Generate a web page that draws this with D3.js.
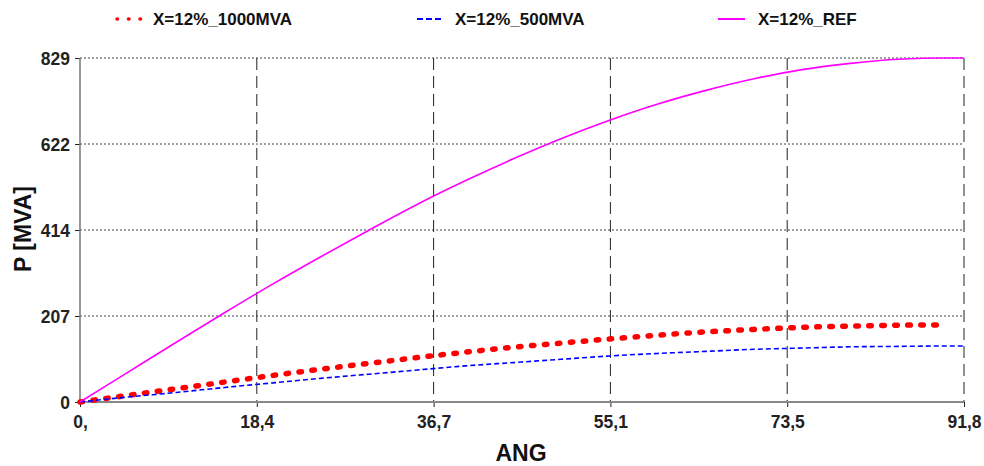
<!DOCTYPE html>
<html>
<head>
<meta charset="utf-8">
<script src="https://cdn.jsdelivr.net/npm/d3@7"></script>
<style>
  body { margin: 0; background: #fff; }
  svg { font-family: "Liberation Sans", Arial, sans-serif; font-weight: bold; }
</style>
</head>
<body>
<svg id="chart" width="984" height="466"></svg>
<script>
// values (angle in degrees, P in MVA)
const angles = [0, 5, 10, 15, 20, 25, 30, 35, 40, 45, 50, 55, 60, 65, 70, 75, 80, 85, 90, 91.8];
const pRef = [0, 72, 144, 215, 284, 350, 414, 476, 533, 586, 635, 679, 718, 751, 779, 801, 816, 826, 829, 829];
const p1000 = [0, 16, 32, 48, 64, 79, 93, 107, 120, 132, 142, 152, 161, 169, 175, 180, 183, 185, 186];
const p500 = [0, 12, 23, 35, 46, 57, 67, 77, 87, 95, 103, 111, 117, 122, 127, 130, 133, 134, 135, 135];
const xTicks = [0, 18.36, 36.72, 55.08, 73.44, 91.8];
const xTickLabels = ["0,", "18,4", "36,7", "55,1", "73,5", "91,8"];
const yTicks = [0, 207.25, 414.5, 621.75, 829];
const yTickLabels = ["0", "207", "414", "622", "829"];

const series = [
  { name: "X=12%_1000MVA", values: p1000, color: "#ff0000", width: 5.5, dash: "2.5 10.5", cap: "round" },
  { name: "X=12%_500MVA", values: p500, color: "#0000ff", width: 1.6, dash: "5 3", cap: "butt" },
  { name: "X=12%_REF", values: pRef, color: "#ff00ff", width: 1.6, dash: null, cap: "butt" }
];

const svg = d3.select("#chart");
const plotL = 80, plotR = 964, plotT = 58, plotB = 402;

const x = d3.scaleLinear().domain([0, 91.8]).range([plotL, plotR]);
const y = d3.scaleLinear().domain([0, 829]).range([plotB, plotT]);

// horizontal grid (dotted)
svg.append("g").selectAll("line")
  .data(yTicks.slice(1))
  .enter().append("line")
  .attr("x1", plotL).attr("x2", plotR)
  .attr("y1", d => y(d)).attr("y2", d => y(d))
  .attr("stroke", "#444").attr("stroke-width", 1)
  .attr("stroke-dasharray", "2 2");

// vertical grid (long dashes)
svg.append("g").selectAll("line")
  .data(xTicks.slice(1))
  .enter().append("line")
  .attr("x1", d => x(d)).attr("x2", d => x(d))
  .attr("y1", plotT).attr("y2", plotB)
  .attr("stroke", "#222").attr("stroke-width", 1)
  .attr("stroke-dasharray", "12 6");

// axes
const xAxis = d3.axisBottom(x).tickValues(xTicks).tickSize(5)
  .tickFormat((d, i) => xTickLabels[i]);
const yAxis = d3.axisLeft(y).tickValues(yTicks).tickSize(5)
  .tickFormat((d, i) => yTickLabels[i]);

const gx = svg.append("g").attr("transform", `translate(0,${plotB})`).call(xAxis);
gx.select(".domain").remove();
gx.selectAll(".tick line").attr("stroke", "#222");
gx.selectAll(".tick text").attr("font-size", 17.5).attr("font-weight", "bold")
  .attr("fill", "#222").attr("dy", "1.05em")
  .attr("font-family", "Liberation Sans, Arial, sans-serif");

const gy = svg.append("g").attr("transform", `translate(${plotL},0)`).call(yAxis);
gy.select(".domain").remove();
gy.selectAll(".tick line").attr("stroke", "#222");
gy.selectAll(".tick text").attr("font-size", 17.5).attr("font-weight", "bold")
  .attr("fill", "#222").attr("x", -10).attr("dy", "0.36em")
  .attr("font-family", "Liberation Sans, Arial, sans-serif");

svg.append("line").attr("x1", plotL).attr("x2", plotL).attr("y1", plotT).attr("y2", plotB)
  .attr("stroke", "#777").attr("stroke-width", 1.5);
svg.append("line").attr("x1", plotL).attr("x2", plotR).attr("y1", plotB).attr("y2", plotB)
  .attr("stroke", "#888").attr("stroke-width", 2);

// curves
const line = d3.line()
  .x((d, i) => x(angles[i]))
  .y(d => y(d))
  .curve(d3.curveMonotoneX);

svg.append("g").selectAll("path")
  .data(series)
  .enter().append("path")
  .attr("d", d => line(d.values))
  .attr("fill", "none")
  .attr("stroke", d => d.color)
  .attr("stroke-width", d => d.width)
  .attr("stroke-dasharray", d => d.dash)
  .attr("stroke-linecap", d => d.cap);

// legend
const legendX = [115, 417, 718];
const legend = svg.append("g").selectAll("g")
  .data(series)
  .enter().append("g")
  .attr("transform", (d, i) => `translate(${legendX[i]},19)`);

legend.append("line")
  .attr("x1", 0).attr("x2", (d, i) => i === 0 ? 26 : 27)
  .attr("y1", 0).attr("y2", 0)
  .attr("stroke", d => d.color)
  .attr("stroke-width", (d, i) => i === 0 ? 3.5 : 2)
  .attr("stroke-dasharray", (d, i) => i === 0 ? "0.5 11" : i === 1 ? "6 3" : null)
  .attr("stroke-linecap", (d, i) => i === 0 ? "round" : "butt")
  .attr("transform", (d, i) => i === 0 ? "translate(2,0)" : null);

legend.append("text")
  .attr("x", (d, i) => [38, 38, 40][i])
  .attr("y", 6)
  .attr("font-size", 17)
  .attr("fill", "#111")
  .text(d => d.name);

// axis titles
svg.append("text")
  .attr("x", 521).attr("y", 461)
  .attr("text-anchor", "middle")
  .attr("font-size", 23).attr("fill", "#111")
  .text("ANG");

svg.append("text")
  .attr("transform", "translate(31,229) rotate(-90)")
  .attr("text-anchor", "middle")
  .attr("font-size", 23).attr("fill", "#111")
  .text("P [MVA]");
</script>
</body>
</html>
